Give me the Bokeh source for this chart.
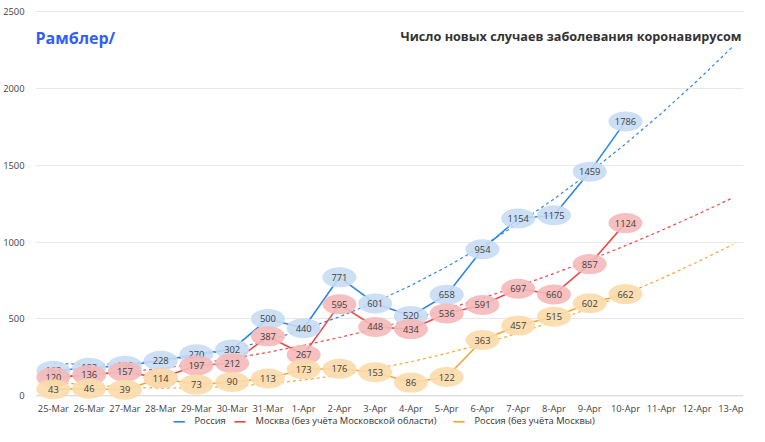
import numpy as np
from bokeh.plotting import figure
from bokeh.models import FixedTicker, Label, ColumnDataSource
from bokeh.core.properties import value
from bokeh.embed import file_html
from bokeh.resources import INLINE

dates = ["25-Mar","26-Mar","27-Mar","28-Mar","29-Mar","30-Mar","31-Mar","1-Apr","2-Apr","3-Apr",
         "4-Apr","5-Apr","6-Apr","7-Apr","8-Apr","9-Apr","10-Apr","11-Apr","12-Apr","13-Apr"]
russia = [163,182,196,228,270,302,500,440,771,601,520,658,954,1154,1175,1459,1786]
moscow = [120,136,157,114,197,212,387,267,595,448,434,536,591,697,660,857,1124]
regions = [43,46,39,114,73,90,113,173,176,153,86,122,363,457,515,602,662]

F = "Open Sans"
p = figure(width=749, height=426, output_backend="svg", toolbar_location=None,
           x_range=(-0.5, 19.3), y_range=(-200, 2560), min_border_left=30, min_border_right=6,
           min_border_top=2, min_border_bottom=0)
p.outline_line_color = None
p.xgrid.grid_line_color = None
p.xaxis.visible = False
p.ygrid.grid_line_color = "#e8e8e8"
p.ygrid.ticker = FixedTicker(ticks=[500,1000,1500,2000,2500])
p.yaxis.ticker = FixedTicker(ticks=[0,500,1000,1500,2000,2500])
p.yaxis.axis_line_color = None
p.yaxis.major_tick_line_color = None
p.yaxis.minor_tick_line_color = None
p.yaxis.major_label_text_font = F
p.yaxis.major_label_text_font_size = "7pt"
p.yaxis.major_label_text_color = "#444444"

xi = list(range(len(dates)))
p.line([xi[0] - 0.5, xi[-1] + 0.3], [0, 0], line_color="#d0d0d0", line_width=1)
p.text(xi, [-80] * len(xi), text=dates, text_align="center", text_baseline="middle",
       text_font=value(F), text_font_size="7pt", text_color="#444444")

series = [(russia, "#2e86e6", "#c6dbf3", "Россия"),
          (moscow, "#ee4a4a", "#f5b9b9", "Москва (без учёта Московской области)"),
          (regions, "#f7a634", "#fbdcaa", "Россия (без учёта Москвы)")]
xs_all = np.arange(len(dates))
for vals, lc, fc, name in series:
    x = np.arange(len(vals))
    coef = np.polyfit(x, vals, 2)
    p.line(list(xs_all), list(np.polyval(coef, xs_all)), line_color=lc, line_dash="3 3", line_width=1.2)
for vals, lc, fc, name in series:
    x = list(range(len(vals)))
    p.line(x, vals, line_color=lc, line_width=1.6)
for vals, lc, fc, name in series:
    x = list(range(len(vals)))
    src = ColumnDataSource(dict(x=x, y=vals, t=[str(v) for v in vals]))
    p.ellipse("x", "y", width=34, height=20, width_units="screen", height_units="screen",
              source=src, fill_color=fc, fill_alpha=0.9, line_color=None)
    p.text("x", "y", text="t", source=src, text_align="center", text_baseline="middle",
           text_font=value(F), text_font_size="7pt", text_color="#404040")

# legend drawn as labels inside the frame's bottom strip
leg_x = [138, 199, 418]
for (vals, lc, fc, name), lx in zip(series, leg_x):
    p.add_layout(Label(x=lx, y=0, x_units="screen", y_units="screen", text="━━",
                       text_font="DejaVu Sans", text_font_size="7pt", text_color=lc))
    p.add_layout(Label(x=lx + 21, y=0, x_units="screen", y_units="screen", text=name,
                       text_font=F, text_font_size="7pt",
                       text_color="#333333"))

p.add_layout(Label(x=0, y=378, x_units="screen", y_units="screen", text="Рамблер/",
                   text_font=F, text_font_size="12pt", text_font_style="bold", text_color="#315efb"))
p.add_layout(Label(x=706, y=382, x_units="screen", y_units="screen", text="Число новых случаев заболевания коронавирусом",
                   text_font=F, text_font_size="9.5pt", text_font_style="bold", text_color="#333333",
                   text_align="right"))

open("out.html", "w").write(file_html(p, INLINE))
